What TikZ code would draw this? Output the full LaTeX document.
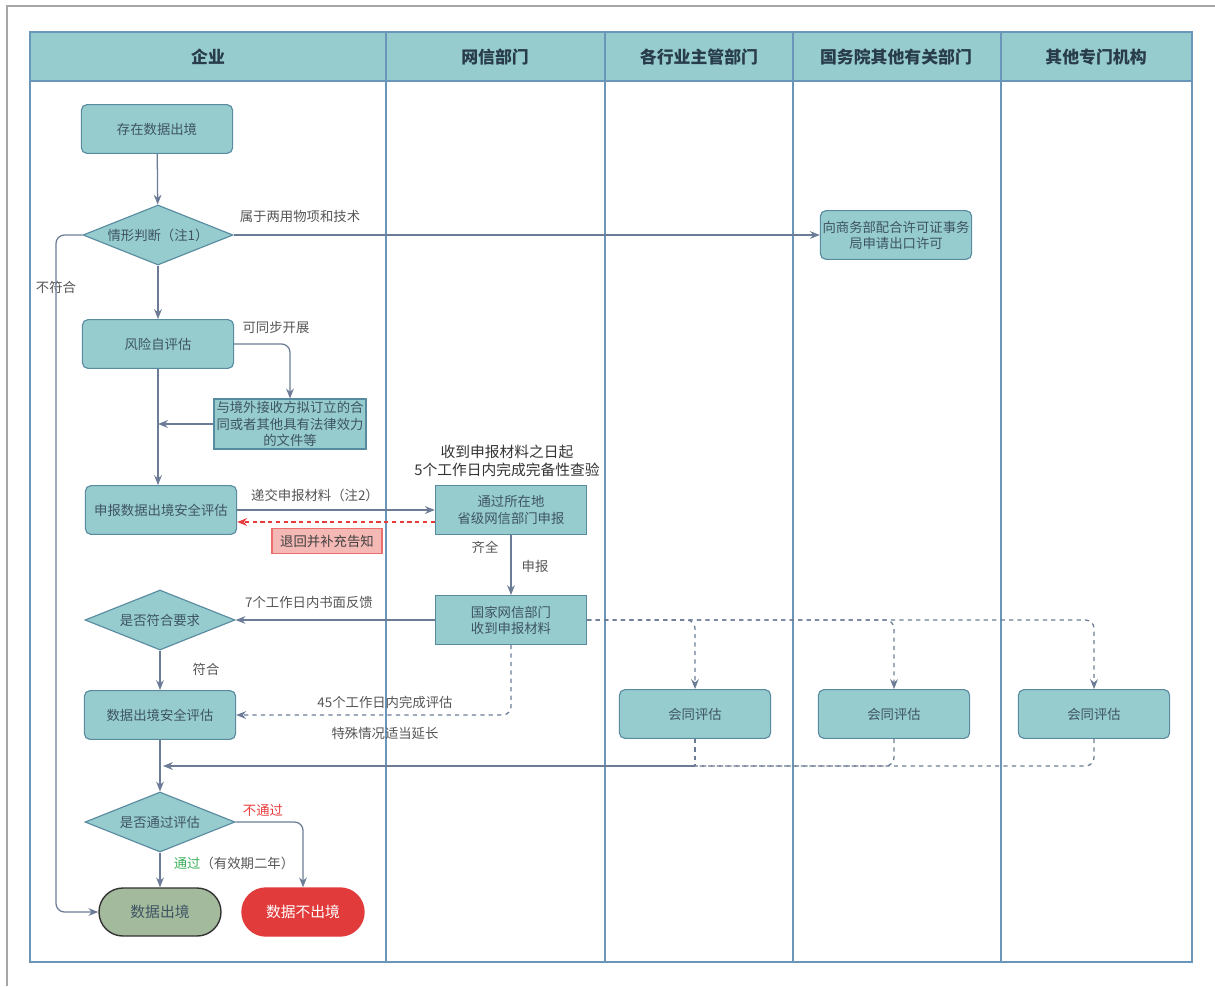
\documentclass[tikz,border=0pt]{standalone}
\usepackage{fontspec}
\setmainfont{Noto Sans CJK SC}
\usetikzlibrary{shapes.geometric,arrows.meta}
\definecolor{teal1}{RGB}{150,204,205}
\definecolor{poolline}{RGB}{105,150,185}
\definecolor{boxline}{RGB}{88,138,160}
\definecolor{boxtext}{RGB}{62,84,100}
\definecolor{arrowc}{RGB}{108,124,150}
\definecolor{lblc}{RGB}{85,85,85}
\definecolor{hdtext}{RGB}{40,60,75}
\definecolor{redc}{RGB}{232,60,60}
\definecolor{redfill}{RGB}{244,185,181}
\definecolor{greenc}{RGB}{60,176,90}
\definecolor{passfill}{RGB}{163,187,156}
\definecolor{failfill}{RGB}{226,59,59}
\begin{document}
\begin{tikzpicture}[x=0.025cm, y=-0.025cm, font=\fontsize{9.5}{11.5}\selectfont,
    proc/.style={draw=boxline, fill=teal1, rounded corners=4pt, line width=0.8pt,
      minimum width=3.78cm, minimum height=1.22cm, inner sep=1pt, text=boxtext, align=center},
    sq/.style={proc, rounded corners=0pt},
    dec/.style={diamond, draw=boxline, fill=teal1, line width=0.8pt, aspect=2.5,
      inner sep=0pt, minimum width=3.75cm, minimum height=1.5cm, text=boxtext},
    term/.style={rectangle, rounded corners=0.6cm, minimum width=3.05cm, minimum height=1.2cm,
      line width=1pt, font=\fontsize{10.5}{12}\selectfont},
    hd/.style={font=\fontsize{12}{14}\selectfont\bfseries, text=hdtext},
    lbl/.style={text=lblc},
    arr/.style={-{Stealth[length=7pt,width=5.5pt]}, draw=arrowc, line width=0.9pt},
    dsh/.style={draw=arrowc, line width=0.9pt, dash pattern=on 3pt off 3pt},
    dsharr/.style={dsh, -{Stealth[length=7pt,width=5.5pt]}},
    redarr/.style={-{Stealth[length=7pt,width=5.5pt]}, draw=redc, line width=0.9pt, dash pattern=on 3pt off 2.5pt},
    lane/.style={draw=poolline, line width=0.9pt}]
  \useasboundingbox (0,0) rectangle (1215,986);
  % outer frame
  \draw[gray!70, line width=1pt] (7,986) -- (7,6) -- (1215,6);
  % pool and lanes
  \fill[teal1] (30,32) rectangle (1192,81);
  \draw[lane] (30,32) rectangle (1192,962);
  \draw[lane] (30,81) -- (1192,81);
  \foreach \x in {386,605,793,1001}
    \draw[lane] (\x,32) -- (\x,962);
  \node[hd] (h1) at (208,57) {企业};
  \node[hd] (h2) at (495,57) {网信部门};
  \node[hd] (h3) at (699,57) {各行业主管部门};
  \node[hd] (h4) at (896,57) {国务院其他有关部门};
  \node[hd] (h5) at (1096,57) {其他专门机构};

  % steps
  \node[proc] (start) at (157,129) {存在数据出境};
  \node[dec] (judge) at (158,235) {情形判断（注1）};
  \node[proc] (export) at (896,235) {向商务部配合许可证事务\\局申请出口许可};
  \node[proc] (risk) at (158,344) {风险自评估};
  \node[sq, minimum width=3.8cm, minimum height=1.25cm] (doc) at (290,424)
    {与境外接收方拟订立的合\\同或者其他具有法律效力\\的文件等};
  \node[proc] (apply) at (161,510) {申报数据出境安全评估};
  \node[sq] (prov) at (511,510) {通过所在地\\省级网信部门申报};
  \node[draw=redc!75, fill=redfill, line width=0.8pt, text=black!75, inner sep=3pt,
    minimum width=2.75cm, minimum height=0.62cm] (ret) at (327,541) {退回并补充告知};
  \node[sq] (nat) at (511,620) {国家网信部门\\收到申报材料};
  \node[dec] (meet) at (160,620) {是否符合要求};
  \node[proc] (assess) at (160,715) {数据出境安全评估};
  \node[proc] (ev1) at (695,714) {会同评估};
  \node[proc] (ev2) at (894,714) {会同评估};
  \node[proc] (ev3) at (1094,714) {会同评估};
  \node[dec] (pass) at (160,822) {是否通过评估};
  \node[term, fill=passfill, draw=black!80, text=boxtext] (out) at (160,912) {数据出境};
  \node[term, fill=failfill, draw=failfill, text=white] (noout) at (303,912) {数据不出境};
  \coordinate (lp) at (56,235);
  \coordinate (mj) at (163,766);

  % labels
  \node[lbl] (l1) at (300,216) {属于两用物项和技术};
  \node[lbl, fill=white, inner sep=1pt] (l2) at (56,287) {不符合};
  \node[lbl] (l3) at (276,327) {可同步开展};
  \node[lbl] (l4) at (315,495) {递交申报材料（注2）};
  \node[text=black!80, font=\fontsize{10.5}{12.5}\selectfont, align=center] (l5) at (507,461)
    {收到申报材料之日起\\5个工作日内完成完备性查验};
  \node[lbl] (l6) at (485,547) {齐全};
  \node[lbl] (l7) at (535,566) {申报};
  \node[lbl] (l8) at (309,602) {7个工作日内书面反馈};
  \node[lbl] (l9) at (206,669) {符合};
  \node[lbl] (l10) at (385,702) {45个工作日内完成评估};
  \node[lbl] (l11) at (385,733) {特殊情况适当延长};
  \node[text=redc] (l12) at (263,810) {不通过};
  \node[lbl] (l13) at (234,863) {\textcolor{greenc}{通过}（有效期二年）};

  % connectors
  \draw[arr] (start) -- (judge);
  \draw[arr] (judge) -- (export);
  \draw[arr, rounded corners=6pt] (judge.west) -- (lp) |- (out.west);
  \draw[arr] (judge) -- (risk);
  \draw[arr, rounded corners=6pt] (risk.east) -| (doc.north);
  \draw[arr] (doc.west) -- (doc.west -| risk.south);
  \draw[arr] (risk) -- (risk.south |- apply.north);
  \draw[arr] (apply.east) -- (prov.west);
  \draw[redarr] ([yshift=-0.3cm]prov.west) -- ([yshift=-0.3cm]apply.east);
  \draw[arr] (prov) -- (nat);
  \draw[arr] (nat) -- (meet);
  \draw[arr] (meet) -- (assess);
  \draw[dsharr, rounded corners=6pt] (nat.south) |- (assess.east);
  \draw[dsharr, rounded corners=6pt] (nat.east) -| (ev1.north);
  \draw[dsharr, rounded corners=6pt] (nat.east) -| (ev2.north);
  \draw[dsharr, rounded corners=6pt] (nat.east) -| (ev3.north);
  \draw[dsh, rounded corners=6pt] (ev3.south) |- (ev1.south |- mj);
  \draw[dsh, rounded corners=6pt] (ev2.south) |- (ev1.south |- mj);
  \draw[dsh] (ev1.south) -- (ev1.south |- mj);
  \draw[arr] (ev1.south |- mj) -- (mj);
  \draw[arr] (assess) -- (pass);
  \draw[arr] (pass) -- (out);
  \draw[arr, rounded corners=6pt] (pass.east) -| (noout.north);
\end{tikzpicture}
\end{document}
